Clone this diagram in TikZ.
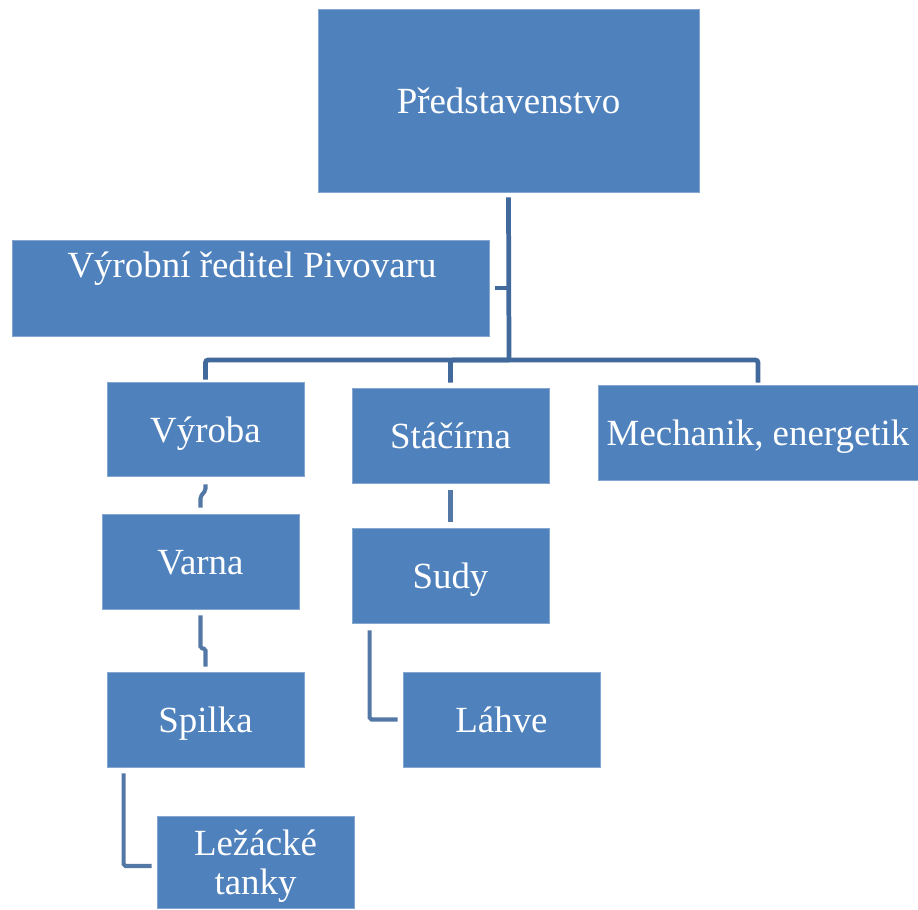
\documentclass[tikz,border=0pt]{standalone}
\usepackage{fontspec}
\setmainfont{Liberation Serif}
\usetikzlibrary{calc}
\definecolor{boxblue}{HTML}{4F81BD}
\definecolor{lineblue}{HTML}{41699C}
\tikzset{
  box/.style={fill=boxblue, draw=boxblue!70!white, line width=0.4pt, inner sep=0pt, text=white,
    font=\fontsize{21}{22.2}\selectfont, align=center, text height=15pt, text depth=0pt},
  conn/.style={draw=lineblue, line width=2.7pt, rounded corners=1.5pt},
  thin conn/.style={draw=lineblue!90!white, line width=2.3pt, rounded corners=1pt}
}
\begin{document}
\begin{tikzpicture}[x=0.02cm,y=-0.02cm]
\useasboundingbox (0,0) rectangle (918,909);
% boxes
\node[box, minimum width=7.62cm, minimum height=3.66cm] (pred) at (508.5,100.5) {Představenstvo};
\node[box, minimum width=9.54cm, minimum height=1.92cm] (vr) at (250.5,288) {};
\node[text=white, font=\fontsize{21}{24}\selectfont, inner sep=0pt, text height=15pt, text depth=0pt] (vrt) at (252,264) {Výrobní ředitel Pivovaru};
\node[box, minimum width=3.94cm, minimum height=1.88cm] (vyroba) at (205.5,429) {Výroba};
\node[box, minimum width=3.94cm, minimum height=1.90cm] (stac) at (450.5,435.5) {Stáčírna};
\node[box, minimum width=6.40cm, minimum height=1.90cm] (mech) at (758,432.5) {Mechanik, energetik};
\node[box, minimum width=3.94cm, minimum height=1.90cm] (varna) at (200.5,561.5) {Varna};
\node[box, minimum width=3.94cm, minimum height=1.90cm] (sudy) at (450.5,575.5) {Sudy};
\node[box, minimum width=3.94cm, minimum height=1.90cm] (spilka) at (205.5,719.5) {Spilka};
\node[box, minimum width=3.94cm, minimum height=1.90cm] (lahve) at (501.5,719.5) {Láhve};
\node[box, minimum width=3.94cm, minimum height=1.84cm, text height=37pt] (tanky) at (255.5,862) {Ležácké\\tanky};
% connectors
\coordinate (bus) at (509,360);
\draw[conn] ($(pred.south)+(0,5)$) -- (bus);
\draw[conn] ($(vyroba.north)+(0,-2)$) |- (bus);
\draw[conn] ($(stac.north)+(0,-5)$) |- (bus);
\draw[conn] ($(mech.north)+(0,-2)$) |- (bus);
\draw[conn] ($(vr.east)+(6,0)$) -- (vr.east -| bus);
\draw[thin conn] ($(vyroba.south)+(0,8)$) -- ++(0,6) -- ($(varna.north)+(0,-17)$) -- ($(varna.north)+(0,-6)$);
\draw[thin conn] ($(varna.south)+(0,6)$) -- ++(0,33) -- ($(spilka.north)+(0,-23)$) -- ($(spilka.north)+(0,-5)$);
\draw[thin conn] ($(stac.south)+(0,7)$) -- ($(sudy.north)+(0,-6)$);
\draw[thin conn] ($(sudy.south west)+(18,7)$) |- ($(lahve.west)+(-5,0)$);
\draw[thin conn] ($(spilka.south west)+(17,6)$) |- ($(tanky.west)+(-5,4)$);
\end{tikzpicture}
\end{document}
